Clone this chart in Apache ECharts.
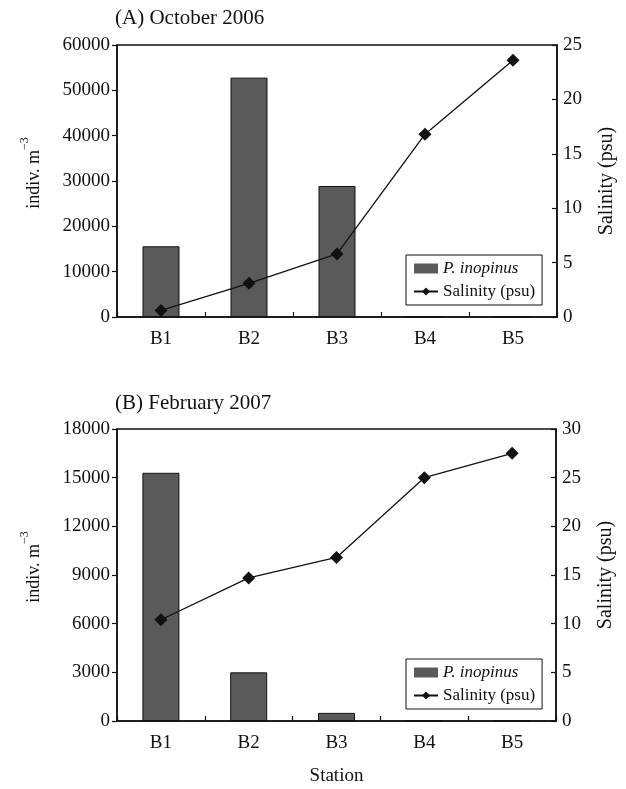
<!DOCTYPE html>
<html>
<head>
<meta charset="utf-8">
<script src="https://cdn.jsdelivr.net/npm/echarts@6/dist/echarts.min.js"></script>
<style>html,body{margin:0;padding:0;background:#fff;}#c{width:626px;height:789px;}</style>
</head>
<body>
<div id="c"></div>
<script>
const categories = ['B1', 'B2', 'B3', 'B4', 'B5'];
const octAbundance = [15600, 52800, 28900, 0, 0];
const octSalinity = [0.6, 3.1, 5.8, 16.8, 23.6];
const febAbundance = [15300, 3000, 500, 0, 0];
const febSalinity = [10.4, 14.7, 16.8, 25.0, 27.5];
const titleA = '(A) October 2006';
const titleB = '(B) February 2007';
const barName = 'P. inopinus';
const lineName = 'Salinity (psu)';

const F = '"Liberation Serif", "Times New Roman", serif';
const FS = 19;
const black = '#111';
const barColor = '#5a5a5a';

function plain(v) { return String(v); }

function leftAxis(grid, max, interval) {
  return {
    type: 'value', gridIndex: grid, position: 'left', min: 0, max: max, interval: interval,
    splitLine: { show: false },
    axisLine: { show: true, lineStyle: { color: black, width: 1.5 } },
    axisTick: { show: true, inside: false, length: 5, lineStyle: { color: black, width: 1.2 } },
    axisLabel: { color: black, fontFamily: F, fontSize: FS, margin: 7, formatter: plain },
    name: '{a|indiv. m}{s|−3}', nameLocation: 'middle', nameRotate: 90, nameGap: 74,
    nameTextStyle: { color: black, fontFamily: F, fontSize: 18, padding: [0, 0, 0, 16],
      rich: { a: { fontFamily: F, fontSize: 18, color: black, verticalAlign: 'bottom', lineHeight: 24 },
              s: { fontFamily: F, fontSize: 12, color: black, verticalAlign: 'top', lineHeight: 24 } } }
  };
}
function rightAxis(grid, max, interval) {
  return {
    type: 'value', gridIndex: grid, position: 'right', min: 0, max: max, interval: interval,
    splitLine: { show: false },
    axisLine: { show: true, lineStyle: { color: black, width: 1.5 } },
    axisTick: { show: true, inside: true, length: 5, lineStyle: { color: black, width: 1.2 } },
    axisLabel: { color: black, fontFamily: F, fontSize: FS, margin: 6, formatter: plain },
    name: lineName, nameLocation: 'middle', nameRotate: 90, nameGap: 40,
    nameTextStyle: { color: black, fontFamily: F, fontSize: 20 }
  };
}
function catAxis(grid, showName) {
  return {
    type: 'category', gridIndex: grid, data: categories, boundaryGap: true,
    axisLine: { show: true, lineStyle: { color: black, width: 1.5 } },
    axisTick: { show: true, inside: true, length: 5, alignWithLabel: false, lineStyle: { color: black, width: 1.2 } },
    axisLabel: { color: black, fontFamily: F, fontSize: FS, margin: 13 },
    name: showName ? 'Station' : '', nameLocation: 'middle', nameGap: 46,
    nameTextStyle: { color: black, fontFamily: F, fontSize: FS }
  };
}
function legend(top) {
  return {
    left: 406, top: top, orient: 'vertical', itemWidth: 24, itemHeight: 10, itemGap: 6,
    padding: [5, 7, 5, 7], borderColor: black, borderWidth: 1, backgroundColor: '#fff',
    data: [{ name: barName, icon: 'rect', itemStyle: { borderWidth: 0 } }, { name: lineName }],
    formatter: function (n) { return n === barName ? '{i|' + n + '}' : n; },
    textStyle: { color: black, fontFamily: F, fontSize: 17,
      rich: { i: { fontFamily: F, fontSize: 17, fontStyle: 'italic', color: black } } }
  };
}
function barSeries(x, y, data) {
  return { name: barName, type: 'bar', xAxisIndex: x, yAxisIndex: y, data: data, barWidth: 37,
    itemStyle: { color: barColor, borderColor: black, borderWidth: 1 } };
}
function lineSeries(x, y, data) {
  return { name: lineName, type: 'line', xAxisIndex: x, yAxisIndex: y, data: data,
    symbol: 'diamond', symbolSize: 13, z: 5,
    lineStyle: { color: black, width: 1.3 }, itemStyle: { color: black } };
}

const chart = echarts.init(document.getElementById('c'), null, { renderer: 'canvas' });
chart.setOption({
  animation: false,
  backgroundColor: '#fff',
  title: [
    { text: titleA, left: 115, top: 8, padding: 0, textStyle: { fontFamily: F, fontSize: 21, fontWeight: 'normal', color: black } },
    { text: titleB, left: 115, top: 393, padding: 0, textStyle: { fontFamily: F, fontSize: 21, fontWeight: 'normal', color: black } }
  ],
  grid: [
    { left: 117, right: 69, top: 45, height: 272, show: true, borderColor: black, borderWidth: 1.5, backgroundColor: 'transparent' },
    { left: 117, right: 70, top: 429, height: 292, show: true, borderColor: black, borderWidth: 1.5, backgroundColor: 'transparent' }
  ],
  legend: [legend(255), legend(659)],
  xAxis: [catAxis(0, false), catAxis(1, true)],
  yAxis: [leftAxis(0, 60000, 10000), rightAxis(0, 25, 5), leftAxis(1, 18000, 3000), rightAxis(1, 30, 5)],
  series: [
    barSeries(0, 0, octAbundance), lineSeries(0, 1, octSalinity),
    barSeries(1, 2, febAbundance), lineSeries(1, 3, febSalinity)
  ]
});
</script>
</body>
</html>
